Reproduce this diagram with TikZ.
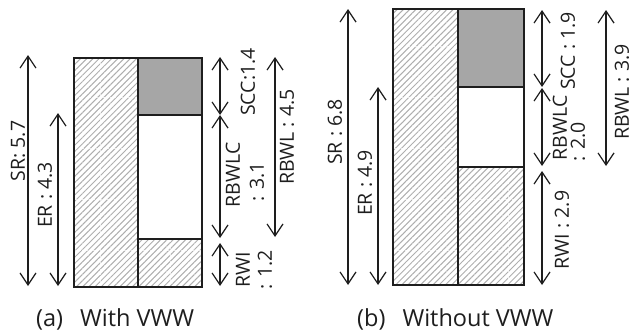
\documentclass[tikz,border=0pt]{standalone}
\usepackage{fontspec}
\setmainfont{Open Sans}
\usetikzlibrary{arrows.meta,patterns.meta}
\definecolor{boxgray}{HTML}{A6A6A6}
\definecolor{hatchgray}{HTML}{AEAEAE}
\definecolor{inkc}{HTML}{1E1E1E}
\tikzset{
  hatchfill/.style={pattern={Lines[angle=45,distance=4.4pt,line width=1pt]},pattern color=hatchgray},
  frame/.style={draw=inkc,line width=1.5pt},
  gridln/.style={draw=white,draw opacity=0.7,line width=0.6pt,dash pattern=on 2pt off 1.5pt},
  dim/.style={draw=inkc,line width=1.2pt,{Straight Barb[length=12pt,width=16pt,line width=1.2pt]}-{Straight Barb[length=12pt,width=16pt,line width=1.2pt]}},
  lbl/.style={rotate=90,font=\fontsize{19.5}{21}\selectfont,inner sep=0pt,text=inkc},
  captxt/.style={anchor=base west,font=\fontsize{23.5}{25}\selectfont,inner sep=0pt,text=inkc}
}
\begin{document}
\begin{tikzpicture}[x=1pt,y=-1pt]
\useasboundingbox (0,0) rectangle (637,332);
% ---------- panel (a)
\fill[hatchfill] (74,58) rectangle (138,287);
\fill[boxgray] (138,58) rectangle (202,115);
\fill[white] (138,115) rectangle (202,239);
\fill[hatchfill] (138,239) rectangle (202,287);
\foreach \yy in {97,148,199,250} \draw[gridln] (75,\yy) -- (137,\yy);
\draw[gridln] (139,250) -- (201,250);
\draw[gridln] (100,59) -- (100,286);
\draw[gridln] (170,240) -- (170,286);
\draw[frame] (74,58) rectangle (202,287);
\draw[frame] (138,58) -- (138,287);
\draw[frame] (138,115) -- (202,115);
\draw[frame] (138,239) -- (202,239);
% arrows (a)
\coordinate (aSRt) at (28,55); \coordinate (aSRb) at (28,286);
\coordinate (aERt) at (58,113); \coordinate (aERb) at (58,286);
\coordinate (aSCt) at (220,57); \coordinate (aSCb) at (220,115);
\coordinate (aLCt) at (220,115); \coordinate (aLCb) at (220,238);
\coordinate (aRWt) at (220,243); \coordinate (aRWb) at (220,286);
\coordinate (aBLt) at (275,57); \coordinate (aBLb) at (275,237);
\draw[dim] (aSRt) -- (aSRb);
\draw[dim] (aERt) -- (aERb);
\draw[dim] (aSCt) -- (aSCb);
\draw[dim] (aLCt) -- (aLCb);
\draw[dim] (aRWt) -- (aRWb);
\draw[dim] (aBLt) -- (aBLb);
\node[lbl] (aSR) at (18,151) {SR: 5.7};
\node[lbl] (aER) at (45,195) {ER : 4.3};
\node[lbl] (aSC) at (248,82) {SCC:1.4};
\node[lbl] (aLC1) at (233,175) {RBWLC};
\node[lbl] (aLC2) at (257,182) {: 3.1};
\node[lbl] (aRW1) at (243,270) {RWI};
\node[lbl] (aRW2) at (265,270) {: 1.2};
\node[lbl] (aBL) at (287,137) {RBWL : 4.5};
\node[captxt] (acap) at (36,326) {(a)\hspace{17pt}With VWW};
% ---------- panel (b)
\fill[hatchfill] (393,9) rectangle (458,285);
\fill[boxgray] (458,9) rectangle (524,87);
\fill[white] (458,87) rectangle (524,167);
\fill[hatchfill] (458,167) rectangle (524,285);
\foreach \yy in {46,97,148,199,250} \draw[gridln] (394,\yy) -- (457,\yy);
\foreach \yy in {199,250} \draw[gridln] (459,\yy) -- (523,\yy);
\draw[gridln] (508,168) -- (508,284);
\draw[frame] (393,9) rectangle (524,285);
\draw[frame] (458,9) -- (458,285);
\draw[frame] (458,87) -- (524,87);
\draw[frame] (458,167) -- (524,167);
% arrows (b)
\coordinate (bSRt) at (348,9); \coordinate (bSRb) at (348,285);
\coordinate (bERt) at (378,87); \coordinate (bERb) at (378,285);
\coordinate (bSCt) at (542,10); \coordinate (bSCb) at (542,87);
\coordinate (bLCt) at (542,88); \coordinate (bLCb) at (542,166);
\coordinate (bRWt) at (542,171); \coordinate (bRWb) at (542,285);
\coordinate (bBLt) at (606,10); \coordinate (bBLb) at (606,166);
\draw[dim] (bSRt) -- (bSRb);
\draw[dim] (bERt) -- (bERb);
\draw[dim] (bSCt) -- (bSCb);
\draw[dim] (bLCt) -- (bLCb);
\draw[dim] (bRWt) -- (bRWb);
\draw[dim] (bBLt) -- (bBLb);
\node[lbl] (bSR) at (335,132) {SR : 6.8};
\node[lbl] (bER) at (365,183) {ER : 4.9};
\node[lbl] (bSC) at (568,51) {SCC : 1.9};
\node[lbl] (bLC1) at (560,128) {RBWLC};
\node[lbl] (bLC2) at (578,142) {: 2.0};
\node[lbl] (bRW) at (562,230) {RWI : 2.9};
\node[lbl] (bBL) at (622,92) {RBWL : 3.9};
\node[captxt] (bcap) at (357,326) {(b)\hspace{17pt}Without VWW};
\end{tikzpicture}
\end{document}
